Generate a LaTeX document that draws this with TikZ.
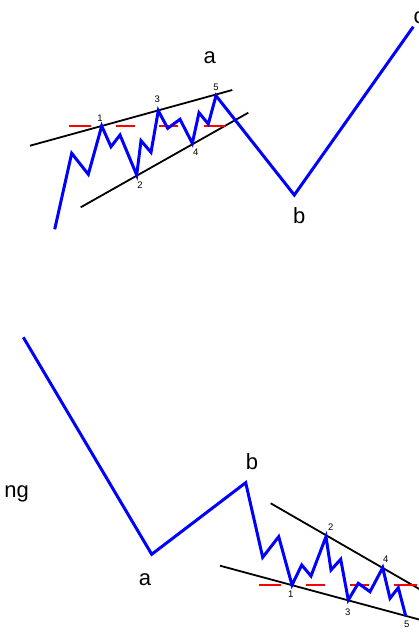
\documentclass[tikz,border=0pt]{standalone}
\usepackage{fontspec}
\setmainfont{Liberation Sans}
\begin{document}
\begin{tikzpicture}[x=1pt,y=-1pt,
  wave/.style={draw=blue,line width=3pt},
  trend/.style={draw=black,line width=1.8pt},
  reddash/.style={draw=red,line width=2.3pt},
  biglabel/.style={inner sep=0pt,font=\fontsize{22}{22}\selectfont},
  numlabel/.style={inner sep=0pt,font=\fontsize{9.5}{9.5}\selectfont}]
\useasboundingbox (0,0) rectangle (419,641);
\fill[white] (0,0) rectangle (419,641);
% ---------- top figure ----------
\coordinate (t0) at (54.7,229.3);
\coordinate (t1) at (71.7,153.3);
\coordinate (t2) at (88.3,174.3);
\coordinate (tw1) at (101.7,126);
\coordinate (t4) at (111,146.7);
\coordinate (t5) at (120,135);
\coordinate (tw2) at (136.7,175);
\coordinate (t7) at (141,140.7);
\coordinate (t8) at (151,152.3);
\coordinate (tw3) at (158.3,110.7);
\coordinate (t10) at (167.7,128.3);
\coordinate (t11) at (180,119.3);
\coordinate (tw4) at (192.3,143.3);
\coordinate (t13) at (199,112.7);
\coordinate (t14) at (208.3,124);
\coordinate (tw5) at (216,95.7);
\coordinate (tb) at (294.3,195);
\coordinate (tc) at (413.3,26.7);
\coordinate (tu1) at (30,145.7);
\coordinate (tu2) at (232.3,90);
\coordinate (tl1) at (80.7,207.3);
\coordinate (tl2) at (248.3,112.7);
\draw[trend] (tu1) -- (tu2);
\draw[trend] (tl1) -- (tl2);
\coordinate (td1a) at (69,126); \coordinate (td1b) at (90.7,126);
\coordinate (td2a) at (115.7,126); \coordinate (td2b) at (135,126);
\coordinate (td3a) at (159.3,126); \coordinate (td3b) at (178.3,126);
\coordinate (td4a) at (204,126); \coordinate (td4b) at (225,126);
\draw[reddash] (td1a) -- (td1b);
\draw[reddash] (td2a) -- (td2b);
\draw[reddash] (td3a) -- (td3b);
\draw[reddash] (td4a) -- (td4b);
\draw[wave] (t0) -- (t1) -- (t2) -- (tw1) -- (t4) -- (t5) -- (tw2) -- (t7) -- (t8) -- (tw3) -- (t10) -- (t11) -- (tw4) -- (t13) -- (t14) -- (tw5) -- (tb) -- (tc);
\node[numlabel] (tn1) at (100,118.3) {1};
\node[numlabel] (tn2) at (140,185.3) {2};
\node[numlabel] (tn3) at (157.3,99.3) {3};
\node[numlabel] (tn4) at (195.7,152.7) {4};
\node[numlabel] (tn5) at (216,87.3) {5};
\node[biglabel] (ta) at (209.7,58) {a};
\node[biglabel] (tbl) at (299.2,216) {b};
\node[biglabel,anchor=west] (tcl) at (413.5,17.5) {c};
% ---------- bottom figure ----------
\coordinate (b0) at (23.3,337.3);
\coordinate (ba) at (151.7,554.3);
\coordinate (bb) at (245.7,482.7);
\coordinate (b3) at (262.7,557.3);
\coordinate (b4) at (278.7,536.7);
\coordinate (bw1) at (292,585);
\coordinate (b6) at (301.7,565);
\coordinate (b7) at (311,576);
\coordinate (bw2) at (326,536.7);
\coordinate (b9) at (331,570);
\coordinate (b10) at (340.7,559.3);
\coordinate (bw3) at (348.3,600);
\coordinate (b12) at (358.3,583.3);
\coordinate (b13) at (370,591.7);
\coordinate (bw4) at (382.7,567.7);
\coordinate (b15) at (390,598.3);
\coordinate (b16) at (398.3,587.7);
\coordinate (bw5) at (405.7,616);
\coordinate (bu1) at (270.7,503.3);
\coordinate (bu2) at (421,590);
\coordinate (bl1) at (220,565.7);
\coordinate (bl2) at (421,620);
\draw[trend] (bu1) -- (bu2);
\draw[trend] (bl1) -- (bl2);
\coordinate (bd1a) at (259.3,585); \coordinate (bd1b) at (281,585);
\coordinate (bd2a) at (306,585); \coordinate (bd2b) at (325,585);
\coordinate (bd3a) at (350,585); \coordinate (bd3b) at (369,585);
\coordinate (bd4a) at (394.3,585); \coordinate (bd4b) at (416.5,585);
\draw[reddash] (bd1a) -- (bd1b);
\draw[reddash] (bd2a) -- (bd2b);
\draw[reddash] (bd3a) -- (bd3b);
\draw[reddash] (bd4a) -- (bd4b);
\draw[wave] (b0) -- (ba) -- (bb) -- (b3) -- (b4) -- (bw1) -- (b6) -- (b7) -- (bw2) -- (b9) -- (b10) -- (bw3) -- (b12) -- (b13) -- (bw4) -- (b15) -- (b16) -- (bw5);
\node[numlabel] (bn1) at (290.7,594) {1};
\node[numlabel] (bn2) at (330.7,526.7) {2};
\node[numlabel] (bn3) at (347.7,612.3) {3};
\node[numlabel] (bn4) at (385.7,559.3) {4};
\node[numlabel] (bn5) at (406.7,624.3) {5};
\node[biglabel] (bal) at (145,580) {a};
\node[biglabel] (bbl) at (252,462) {b};
\node[biglabel,anchor=base east] (ng) at (29,497.3) {ng};
\end{tikzpicture}
\end{document}
